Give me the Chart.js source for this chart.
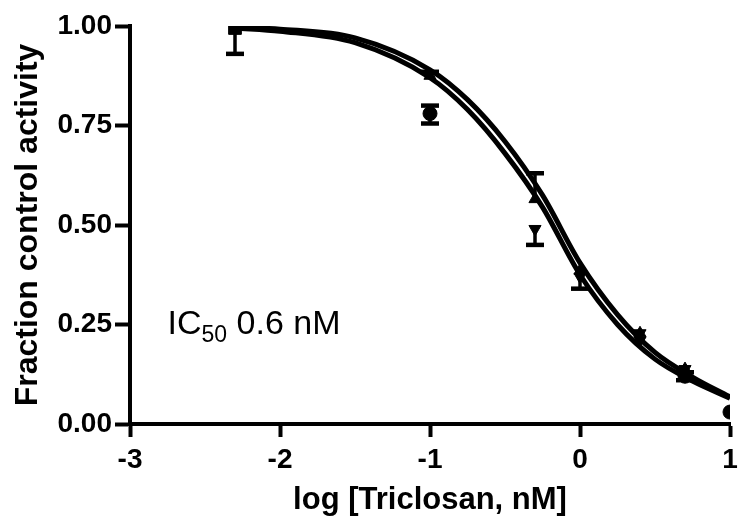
<!DOCTYPE html>
<html>
<head>
    <meta charset="UTF-8">
    <script src="https://cdn.jsdelivr.net/npm/chart.js@4.4.0/dist/chart.umd.min.js"></script>
    <style>
        html, body {
            margin: 0;
            padding: 0;
            background: #ffffff;
        }
        .chart-container {
            position: relative;
            width: 748px;
            height: 530px;
        }
    </style>
</head>
<body>
    <div class="chart-container">
        <canvas id="ic50Chart"></canvas>
    </div>

    <script>
        // fitted curves
        const curveX = [-2.3, -2, -1.5, -1, -0.75, -0.5, -0.25, 0, 0.25, 0.5, 0.75, 1];
        const curveUpper = [0.997, 0.992, 0.97, 0.89, 0.815, 0.71, 0.575, 0.405, 0.275, 0.18, 0.118, 0.068];
        const curveLower = [0.995, 0.987, 0.958, 0.87, 0.79, 0.68, 0.545, 0.375, 0.25, 0.163, 0.108, 0.065];

        // measured points (mean, error below, error above)
        const circleX = [-1, 0.7, 1];
        const circleY = [0.78, 0.12, 0.03];
        const circleLo = [0.025, 0.01, 0];
        const circleHi = [0.02, 0.01, 0];

        const squareX = [-2.3];
        const squareY = [0.995];
        const squareLo = [0.065];
        const squareHi = [0.005];

        const triUpX = [-1, -0.3, 0];
        const triUpY = [0.875, 0.565, 0.385];
        const triUpLo = [0, 0, 0];
        const triUpHi = [0.01, 0.065, 0];

        const triDownX = [-0.3, 0, 0.4];
        const triDownY = [0.49, 0.37, 0.21];
        const triDownLo = [0.04, 0.03, 0];
        const triDownHi = [0, 0, 0];

        const starX = [0.4, 0.7];
        const starY = [0.228, 0.138];

        const xTicks = [-3, -2, -1, 0, 1];
        const yTicks = [0, 0.25, 0.5, 0.75, 1];

        const toPoints = (xs, ys) => xs.map((x, i) => ({ x: x, y: ys[i] }));

        const tickFont = { family: 'Arial, "Liberation Sans"', size: 28, weight: 'bold' };
        const xTitleFont = { family: 'Arial, "Liberation Sans"', size: 31, weight: 'bold' };
        const yTitleFont = { family: 'Arial, "Liberation Sans"', size: 32, weight: 'bold' };

        const curveStyle = {
            showLine: true,
            borderColor: '#000',
            borderWidth: 5,
            pointRadius: 0,
            cubicInterpolationMode: 'monotone',
            fill: false,
            order: 1
        };
        const markStyle = {
            backgroundColor: '#000',
            borderColor: '#000',
            borderWidth: 1,
            pointRadius: 7,
            showLine: false,
            order: 0
        };

        const data = {
            datasets: [
                Object.assign({ label: 'fit upper', data: toPoints(curveX, curveUpper) }, curveStyle),
                Object.assign({ label: 'fit lower', data: toPoints(curveX, curveLower) }, curveStyle),
                Object.assign({ label: 'circle', data: toPoints(circleX, circleY), pointStyle: 'circle', errLo: circleLo, errHi: circleHi }, markStyle),
                Object.assign({ label: 'square', data: toPoints(squareX, squareY), errLo: squareLo, errHi: squareHi }, markStyle, { pointStyle: 'rect', pointRadius: 9 }),
                Object.assign({ label: 'triangle', data: toPoints(triUpX, triUpY), pointStyle: 'triangle', errLo: triUpLo, errHi: triUpHi }, markStyle),
                Object.assign({ label: 'inverted', data: toPoints(triDownX, triDownY), pointStyle: 'triangle', rotation: 180, errLo: triDownLo, errHi: triDownHi }, markStyle),
                // six point star = two triangles on top of each other
                Object.assign({ label: 'star a', data: toPoints(starX, starY), pointStyle: 'triangle' }, markStyle),
                Object.assign({ label: 'star b', data: toPoints(starX, starY), pointStyle: 'triangle', rotation: 180 }, markStyle)
            ]
        };

        // error bars with caps
        const errorBars = {
            id: 'errorBars',
            afterDatasetsDraw(chart) {
                const ctx = chart.ctx;
                const xs = chart.scales.x;
                const ys = chart.scales.y;
                ctx.save();
                ctx.strokeStyle = '#000';
                chart.data.datasets.forEach(ds => {
                    if (!ds.errLo) return;
                    ds.data.forEach((p, i) => {
                        const px = xs.getPixelForValue(p.x);
                        const lo = ys.getPixelForValue(p.y - ds.errLo[i]);
                        const hi = ys.getPixelForValue(p.y + ds.errHi[i]);
                        const mid = ys.getPixelForValue(p.y);
                        [lo, hi].forEach(end => {
                            if (Math.abs(end - mid) < 2) return;
                            ctx.lineWidth = 3.5;
                            ctx.beginPath();
                            ctx.moveTo(px, mid);
                            ctx.lineTo(px, end);
                            ctx.stroke();
                            ctx.lineWidth = 4.5;
                            ctx.beginPath();
                            ctx.moveTo(px - 9, end);
                            ctx.lineTo(px + 9, end);
                            ctx.stroke();
                        });
                    });
                });
                ctx.restore();
            }
        };

        // IC50 note inside the plot
        const ic50Label = {
            id: 'ic50Label',
            afterDraw(chart) {
                const ctx = chart.ctx;
                const x0 = chart.scales.x.getPixelForValue(-2.75);
                const y0 = chart.scales.y.getPixelForValue(0.226);
                ctx.save();
                ctx.fillStyle = '#000';
                ctx.textBaseline = 'alphabetic';
                ctx.textAlign = 'left';
                ctx.font = '34px Arial, "Liberation Sans"';
                ctx.fillText('IC', x0, y0);
                let x = x0 + ctx.measureText('IC').width;
                ctx.font = '23px Arial, "Liberation Sans"';
                ctx.fillText('50', x, y0 + 8);
                x += ctx.measureText('50').width;
                ctx.font = '34px Arial, "Liberation Sans"';
                ctx.fillText(' 0.6 nM', x, y0);
                ctx.restore();
            }
        };

        const config = {
            type: 'scatter',
            data: data,
            plugins: [errorBars, ic50Label],
            options: {
                responsive: true,
                maintainAspectRatio: false,
                animation: false,
                layout: {
                    padding: { top: 26, right: 18, left: 0, bottom: 0 }
                },
                plugins: {
                    legend: { display: false },
                    tooltip: { enabled: false }
                },
                scales: {
                    x: {
                        type: 'linear',
                        position: 'bottom',
                        min: -3,
                        max: 1,
                        afterBuildTicks: axis => { axis.ticks = xTicks.map(v => ({ value: v })); },
                        afterFit: axis => { axis.height = 106; },
                        ticks: {
                            color: '#000',
                            font: tickFont,
                            padding: 6,
                            callback: v => String(v)
                        },
                        grid: {
                            drawOnChartArea: false,
                            tickLength: 13,
                            tickWidth: 4,
                            tickColor: '#000'
                        },
                        border: { display: true, width: 4, color: '#000' },
                        title: {
                            display: true,
                            text: 'log [Triclosan, nM]',
                            color: '#000',
                            font: xTitleFont,
                            padding: { top: 0, bottom: 11 }
                        }
                    },
                    y: {
                        min: 0,
                        max: 1,
                        afterBuildTicks: axis => { axis.ticks = yTicks.map(v => ({ value: v })); },
                        afterFit: axis => { axis.width = 130; },
                        ticks: {
                            color: '#000',
                            font: tickFont,
                            padding: 3,
                            callback: v => v.toFixed(2)
                        },
                        grid: {
                            drawOnChartArea: false,
                            tickLength: 15,
                            tickWidth: 4,
                            tickColor: '#000'
                        },
                        border: { display: true, width: 4, color: '#000' },
                        title: {
                            display: true,
                            text: 'Fraction control activity',
                            color: '#000',
                            font: yTitleFont,
                            padding: { top: 9, bottom: 0 }
                        }
                    }
                }
            }
        };

        const chart = new Chart(document.getElementById('ic50Chart'), config);
    </script>
</body>
</html>
